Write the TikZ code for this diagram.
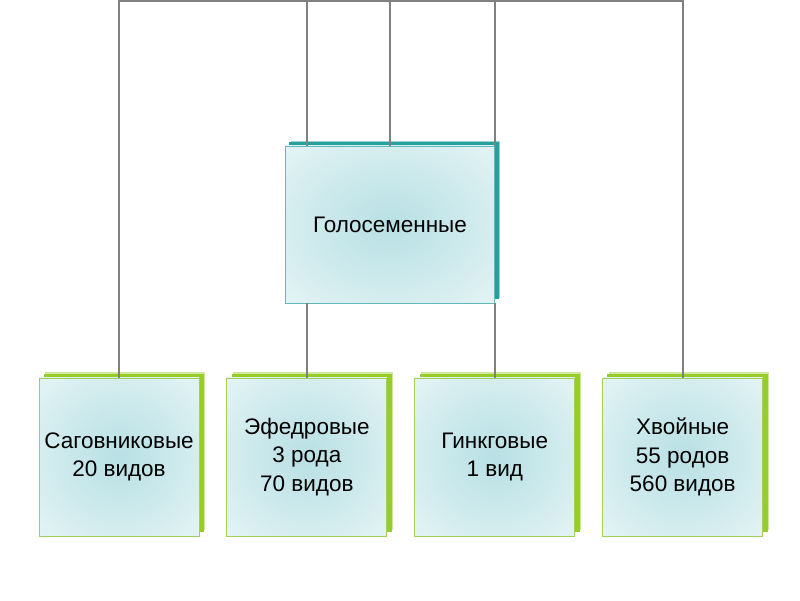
\documentclass[tikz,border=0pt]{standalone}
\usepackage{fontspec}
\setmainfont{Liberation Sans}
\usetikzlibrary{positioning}
\usetikzlibrary{shadows}

\definecolor{tealshade}{RGB}{38,160,158}
\definecolor{tealline}{RGB}{95,186,186}
\definecolor{limeshade}{RGB}{150,205,40}
\definecolor{limeline}{RGB}{160,210,90}
\definecolor{paleteal}{RGB}{184,224,228}
\definecolor{linegray}{RGB}{128,128,128}

\pgfdeclareradialshading{glow}{\pgfpoint{0bp}{0bp}}{color(0bp)=(paleteal); color(18bp)=(paleteal!70!white); color(42bp)=(paleteal!25!white); color(72bp)=(white)}

\begin{document}
\begin{tikzpicture}[x=0.025cm, y=-0.025cm,
    rootbox/.style={rectangle, draw=tealline, line width=0.6pt, minimum width=5.225cm, minimum height=3.925cm, shading=glow, general shadow={fill=tealshade!45!white, shadow xshift=0.14cm, shadow yshift=0.13cm}, general shadow={fill=tealshade, shadow xshift=0.1cm, shadow yshift=0.09cm}, align=center, font=\fontsize{16}{20}\selectfont},
    groupbox/.style={rectangle, draw=limeline, line width=0.6pt, minimum width=4cm, minimum height=3.95cm, shading=glow, general shadow={fill=limeshade!45!white, shadow xshift=0.16cm, shadow yshift=0.14cm}, general shadow={fill=limeshade, shadow xshift=0.12cm, shadow yshift=0.1cm}, align=center, font=\fontsize{16}{20}\selectfont},
    wire/.style={draw=linegray, line width=1.4pt}
]
\useasboundingbox (0,0) rectangle (800,600);

% Root (middle row)
\node[rootbox] (gol) at (390,224.5) {Голосеменные};

% Groups (bottom row)
\node[groupbox] (sag) at (119,457) {Саговниковые\\20 видов};
\node[groupbox, right=0.675cm of sag] (efe) {Эфедровые\\3 рода\\70 видов};
\node[groupbox, right=0.675cm of efe] (gin) {Гинкговые\\1 вид};
\node[groupbox, right=0.675cm of gin] (hvo) {Хвойные\\55 родов\\560 видов};

% Top bus
\coordinate (bus) at (0,1);
\draw[wire] (sag.north) -- (sag.north |- bus) -- (hvo.north |- bus) -- (hvo.north);
\foreach \n in {efe, gol, gin}
   \draw[wire] (\n.north |- gol.north) -- (\n.north |- bus);

% Links under the root
\foreach \n in {efe, gin}
   \draw[wire] (\n.north) -- (\n.north |- gol.south);

\end{tikzpicture}
\end{document}
